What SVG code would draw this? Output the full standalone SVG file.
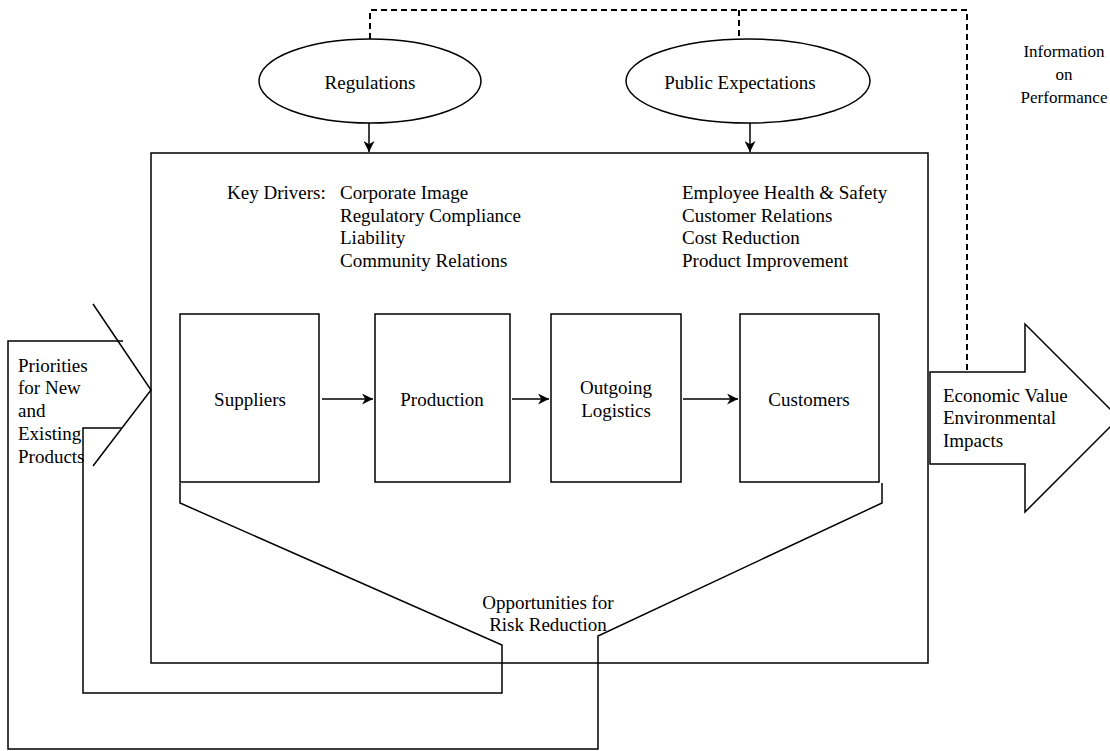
<svg xmlns="http://www.w3.org/2000/svg" width="1110" height="751" viewBox="0 0 1110 751">
<defs>
<style>
.ln{fill:none;stroke:#000;stroke-width:1.5}
.bx{fill:#fff;stroke:#000;stroke-width:1.5}
.ds{fill:none;stroke:#000;stroke-width:2;stroke-dasharray:6 4}
text{font-family:"Liberation Serif","Times New Roman",serif;font-size:19px;fill:#000}
.c{text-anchor:middle}
.sm{font-size:17px}
</style>
<marker id="ah" viewBox="0 0 10 10" refX="10" refY="5" markerWidth="11" markerHeight="11" markerUnits="userSpaceOnUse" orient="auto">
<path d="M0,0 L10,5 L0,10 L3,5 Z" fill="#000"/>
</marker>
</defs>
<rect width="1110" height="751" fill="#fff"/>
<g id="main-box">
<rect class="bx" x="151" y="153" width="777" height="510"/>
</g>
<g id="drivers">
<text x="227" y="199">Key Drivers:</text>
<text x="340" y="199">Corporate Image</text>
<text x="340" y="222">Regulatory Compliance</text>
<text x="340" y="244">Liability</text>
<text x="340" y="267">Community Relations</text>
<text x="682" y="199">Employee Health &amp; Safety</text>
<text x="682" y="222">Customer Relations</text>
<text x="682" y="244">Cost Reduction</text>
<text x="682" y="267">Product Improvement</text>
</g>
<g id="regulations">
<ellipse class="bx" cx="370" cy="81" rx="111" ry="42"/>
<text class="c" x="370" y="89">Regulations</text>
</g>
<g id="public-expectations">
<ellipse class="bx" cx="748" cy="81" rx="122" ry="42"/>
<text class="c" x="740" y="89">Public Expectations</text>
</g>
<g id="info-label">
<text class="c sm" x="1064" y="57">Information</text>
<text class="c sm" x="1064" y="80">on</text>
<text class="c sm" x="1064" y="103">Performance</text>
</g>
<g id="suppliers">
<rect class="bx" x="180" y="314" width="139" height="168"/>
<text class="c" x="250" y="406">Suppliers</text>
</g>
<g id="production">
<rect class="bx" x="375" y="314" width="135" height="168"/>
<text class="c" x="442" y="406">Production</text>
</g>
<g id="outgoing-logistics">
<rect class="bx" x="551" y="314" width="130" height="168"/>
<text class="c" x="616" y="394">Outgoing</text>
<text class="c" x="616" y="417">Logistics</text>
</g>
<g id="customers">
<rect class="bx" x="740" y="314" width="139" height="168"/>
<text class="c" x="809" y="406">Customers</text>
</g>
<g id="output-arrow">
<path class="bx" d="M930,372 L1025,372 L1025,324 L1119,418 L1025,512 L1025,464 L930,464 Z"/>
<text x="943" y="402">Economic Value</text>
<text x="943" y="424">Environmental</text>
<text x="943" y="447">Impacts</text>
</g>
<g id="priorities">
<text x="18" y="372">Priorities</text>
<text x="18" y="394">for New</text>
<text x="18" y="417">and</text>
<text x="18" y="440">Existing</text>
<text x="18" y="463">Products</text>
</g>
<g id="risk-label">
<text class="c" x="548" y="609">Opportunities for</text>
<text class="c" x="548" y="631">Risk Reduction</text>
</g>
<g id="connectors">
<path class="ds" d="M370,39 L370,10 L967,10 L967,372"/>
<path class="ds" d="M739,10 L739,39"/>
<path class="ln" d="M369,123 L369,152" marker-end="url(#ah)"/>
<path class="ln" d="M750,123 L750,152" marker-end="url(#ah)"/>
<path class="ln" d="M322,399 L373,399" marker-end="url(#ah)"/>
<path class="ln" d="M512,399 L549,399" marker-end="url(#ah)"/>
<path class="ln" d="M683,399 L738,399" marker-end="url(#ah)"/>
<path class="ln" d="M93,304 L151,390 L93,466"/>
<path class="ln" d="M123,341 L8,341 L8,749 L598,749 L598,636 L882,503 L882,483"/>
<path class="ln" d="M122,428 L83,428 L83,693 L502,693 L502,645 L180,503 L180,483"/>
</g>
</svg>
